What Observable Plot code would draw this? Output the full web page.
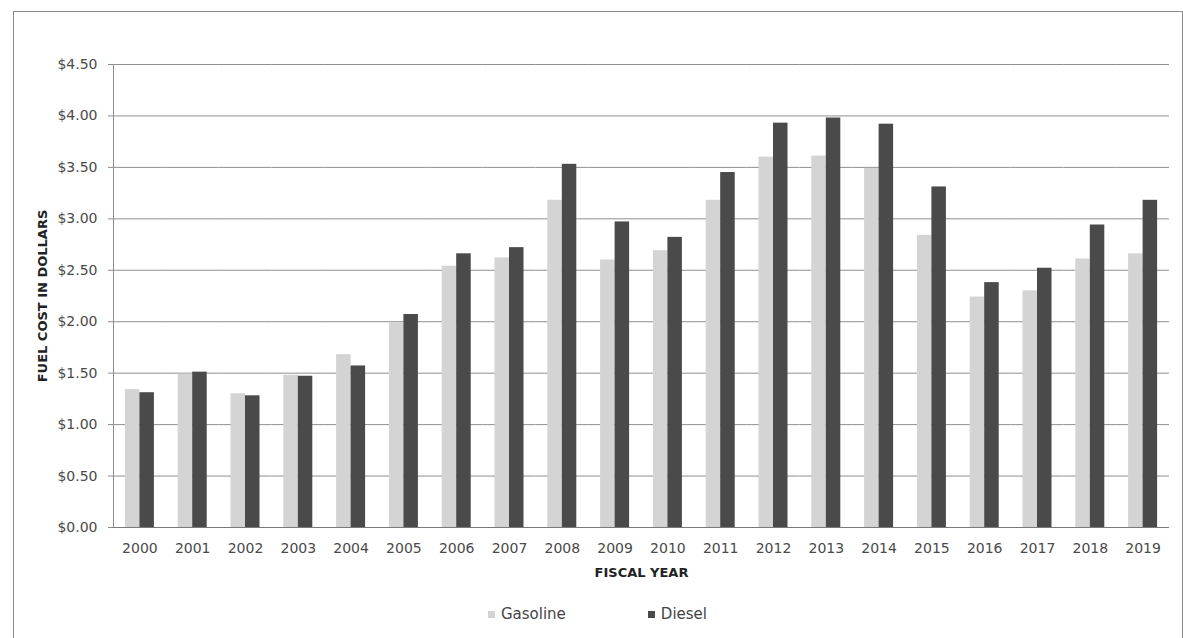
<!DOCTYPE html>
<html>
<head>
<meta charset="utf-8">
<script src="https://cdn.jsdelivr.net/npm/d3@7"></script>
<script src="https://cdn.jsdelivr.net/npm/@observablehq/plot@0.6"></script>
<style>
  body { margin: 0; background: #fff; font-family: "Century Gothic", "DejaVu Sans", sans-serif; }
  #wrap { position: relative; width: 1183px; height: 638px; overflow: hidden; background: #fff; }
  #frame { position: absolute; left: 13px; top: 11px; width: 1170px; height: 640px;
           border: 1.5px solid #8a8a8a; box-sizing: border-box; pointer-events: none; }
  #chart svg text { fill: #4a4a4a; }
  #chart svg g[aria-label$="axis label"] { font-weight: bold; font-size: 13px; }
  #chart svg g[aria-label$="axis label"] text { fill: #222; }
  #legend { display: flex; justify-content: center; gap: 82px; margin-top: 14px; height: 20px;
            align-items: center; font-size: 15px; color: #444; padding-left: 12px; }
  #legend span.item { display: inline-flex; align-items: center; gap: 6px; }
  #legend span.sw { display: inline-block; width: 7px; height: 7px; }
</style>
</head>
<body>
<div id="wrap">
  <div id="chart"></div>
  <div id="legend"></div>
  <div id="frame"></div>
</div>
<script>
// Average fuel cost per gallon by fiscal year
const years = ["2000","2001","2002","2003","2004","2005","2006","2007","2008","2009",
               "2010","2011","2012","2013","2014","2015","2016","2017","2018","2019"];
const gasoline = [1.34, 1.49, 1.30, 1.48, 1.68, 1.99, 2.54, 2.62, 3.18, 2.60,
                  2.69, 3.18, 3.60, 3.61, 3.49, 2.84, 2.24, 2.30, 2.61, 2.66];
const diesel   = [1.31, 1.51, 1.28, 1.47, 1.57, 2.07, 2.66, 2.72, 3.53, 2.97,
                  2.82, 3.45, 3.93, 3.98, 3.92, 3.31, 2.38, 2.52, 2.94, 3.18];
const fuels = ["Gasoline", "Diesel"];
const fuelColors = ["#d4d4d4", "#4a4a4a"];
const yTicks = [0, 0.5, 1, 1.5, 2, 2.5, 3, 3.5, 4, 4.5];

const rows = years.flatMap((year, i) => [
  {year, fuel: fuels[0], cost: gasoline[i]},
  {year, fuel: fuels[1], cost: diesel[i]}
]);

const chart = Plot.plot({
  width: 1183,
  height: 590,
  marginTop: 64,
  marginBottom: 63,
  marginLeft: 113,
  marginRight: 14,
  style: {fontFamily: '"Century Gothic", "DejaVu Sans", sans-serif', fontSize: "14px", color: "#8c8c8c", background: "transparent"},
  fx: {domain: years, padding: 0, round: false, label: "FISCAL YEAR", labelAnchor: "center", labelOffset: 49,
       tickSize: 0, tickPadding: 16},
  x: {domain: fuels, paddingInner: 0, paddingOuter: 0.82, round: false, axis: null},
  y: {domain: [0, 4.5], ticks: yTicks, tickFormat: d => "$" + d.toFixed(2), tickSize: 5, tickPadding: 11,
      label: "FUEL COST IN DOLLARS", labelArrow: "none", labelAnchor: "center", labelOffset: 76, line: true},
  color: {domain: fuels, range: fuelColors},
  marks: [
    Plot.gridY(yTicks, {stroke: "#8f8f8f", strokeOpacity: 1}),
    Plot.barY(rows, {fx: "year", x: "fuel", y: "cost", fill: "fuel"}),
    Plot.ruleY([0], {stroke: "#7a7a7a"})
  ]
});
document.getElementById("chart").appendChild(chart);

// Legend
const legend = document.getElementById("legend");
fuels.forEach((f, i) => {
  const item = document.createElement("span");
  item.className = "item";
  const sw = document.createElement("span");
  sw.className = "sw";
  sw.style.background = fuelColors[i];
  item.appendChild(sw);
  item.appendChild(document.createTextNode(f));
  legend.appendChild(item);
});
</script>
</body>
</html>
